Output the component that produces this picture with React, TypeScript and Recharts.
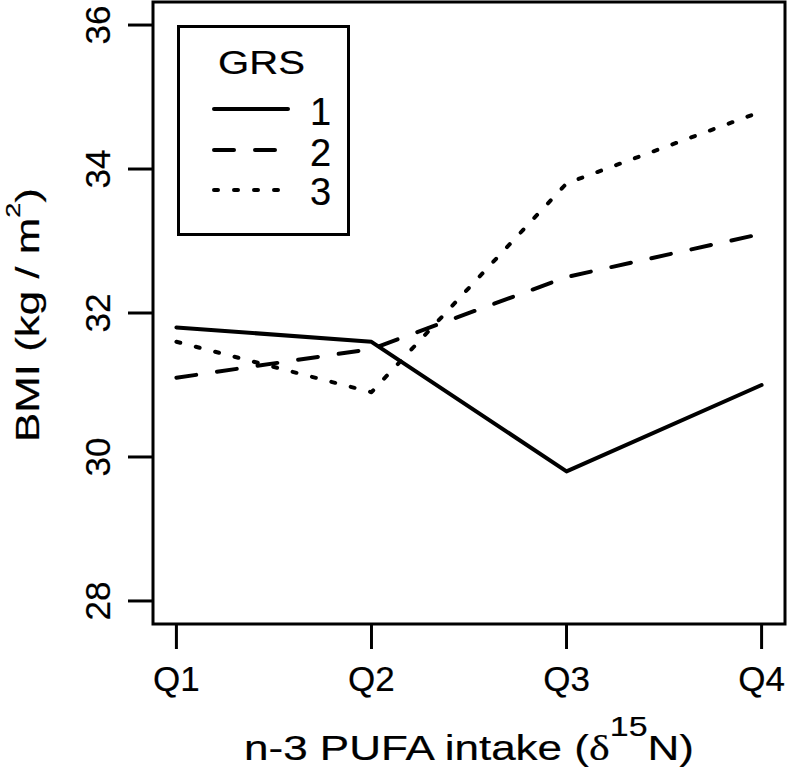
import { LineChart, Line, XAxis, YAxis, ReferenceArea, Legend, Label } from 'recharts'

const QUARTILES = ['Q1', 'Q2', 'Q3', 'Q4']
const GRS_1 = [31.8, 31.6, 29.8, 31.0]
const GRS_2 = [31.1, 31.5, 32.5, 33.1]
const GRS_3 = [31.6, 30.9, 33.8, 34.8]
const Y_TICKS = [28, 30, 32, 34, 36]
const X_TICKS = [1, 2, 3, 4]

const FONT = '"Liberation Sans", Arial, Helvetica, sans-serif'
const SERIF = '"Liberation Serif", "DejaVu Serif", serif'

// R-style axes: 4% padding around the data range
const X_DOMAIN = [0.88, 4.12]
const Y_DOMAIN = [27.68, 36.32]

const records = QUARTILES.map((q, i) => ({
  pos: i + 1,
  q,
  g1: GRS_1[i],
  g2: GRS_2[i],
  g3: GRS_3[i],
}))

// round caps add 4px to each dash, so on/off lengths are shortened
const SERIES = [
  { key: 'g1', name: '1', dash: undefined },
  { key: 'g2', name: '2', dash: '20 21' },
  { key: 'g3', name: '3', dash: '4 16' },
]

const textStyle = { fill: '#000', stroke: '#000', strokeWidth: 0.2 }

function YTick({ x, y, payload }: any) {
  return (
    <text
      x={x}
      y={y}
      transform={`rotate(-90 ${x} ${y})`}
      textAnchor="middle"
      fontSize={35}
      fontFamily={FONT}
      {...textStyle}
    >
      {payload.value}
    </text>
  )
}

function XTitle({ viewBox }: any) {
  const cx = viewBox.x + viewBox.width / 2
  const by = viewBox.y + 136
  return (
    <text x={cx} y={by} textAnchor="middle" fontSize={35} fontFamily={FONT} {...textStyle}
      textLength={450} lengthAdjust="spacingAndGlyphs">
      n-3 PUFA intake (
      <tspan fontFamily={SERIF}>δ</tspan>
      <tspan fontSize={27} dy={-24}>15</tspan>
      <tspan dy={24}>N)</tspan>
    </text>
  )
}

function YTitle({ viewBox }: any) {
  const bx = 39
  const cy = viewBox.y + viewBox.height / 2 + 2
  return (
    <text x={bx} y={cy} transform={`rotate(-90 ${bx} ${cy})`} textAnchor="middle" fontSize={34}
      fontFamily={FONT} {...textStyle} textLength={254} lengthAdjust="spacingAndGlyphs">
      BMI (kg / m
      <tspan fontSize={21} dy={-19}>2</tspan>
      <tspan dy={19}>)</tspan>
    </text>
  )
}

function GrsLegend() {
  const rows = [84, 125, 165]
  const labelY = [100, 141, 180]
  return (
    <svg width={173} height={211} style={{ display: 'block' }}>
      <rect x={1.5} y={1.5} width={170} height={208} fill="#fff" stroke="#000" strokeWidth={3} />
      <text x={84.5} y={49} textAnchor="middle" fontSize={34} fontFamily={FONT} {...textStyle}
        textLength={87} lengthAdjust="spacingAndGlyphs">GRS</text>
      {SERIES.map((s, i) => (
        <g key={s.key}>
          <line x1={37} x2={111} y1={rows[i]} y2={rows[i]} stroke="#000" strokeWidth={4}
            strokeDasharray={s.dash} strokeLinecap="round" />
          <text x={133} y={labelY[i]} fontSize={38} fontFamily={FONT} {...textStyle}>{s.name}</text>
        </g>
      ))}
    </svg>
  )
}

export default function App() {
  return (
    <div style={{ position: 'absolute', left: 0, top: 0, background: '#fff' }}>
      <LineChart width={787} height={769} data={records} margin={{ top: 2, right: 2, left: 0, bottom: 0 }}>
        <XAxis
          dataKey="pos"
          type="number"
          domain={X_DOMAIN}
          ticks={X_TICKS}
          tickFormatter={(v) => QUARTILES[v - 1]}
          allowDataOverflow
          axisLine={false}
          tickLine={{ stroke: '#000', strokeWidth: 3 }}
          tickSize={25}
          tickMargin={17}
          tick={{ fontSize: 35, fontFamily: FONT, ...textStyle }}
          height={145}
          interval={0}
        >
          <Label content={<XTitle />} />
        </XAxis>
        <YAxis
          type="number"
          domain={Y_DOMAIN}
          ticks={Y_TICKS}
          allowDataOverflow
          axisLine={false}
          tickLine={{ stroke: '#000', strokeWidth: 3 }}
          tickSize={25}
          tickMargin={18}
          tick={<YTick />}
          width={153}
          interval={0}
        >
          <Label content={<YTitle />} />
        </YAxis>
        <ReferenceArea
          x1={X_DOMAIN[0]}
          x2={X_DOMAIN[1]}
          y1={Y_DOMAIN[0]}
          y2={Y_DOMAIN[1]}
          fill="none"
          fillOpacity={0}
          stroke="#000"
          strokeWidth={3}
          ifOverflow="visible"
        />
        {SERIES.map((s) => (
          <Line
            key={s.key}
            dataKey={s.key}
            name={s.name}
            type="linear"
            stroke="#000"
            strokeWidth={4}
            strokeDasharray={s.dash}
            strokeLinecap="round"
            strokeLinejoin="round"
            dot={false}
            activeDot={false}
            isAnimationActive={false}
          />
        ))}
        <Legend
          layout="vertical"
          align="center"
          verticalAlign="middle"
          content={() => <GrsLegend />}
          wrapperStyle={{ position: 'absolute', left: 177, top: 25, width: 173, height: 211 }}
        />
      </LineChart>
    </div>
  )
}
